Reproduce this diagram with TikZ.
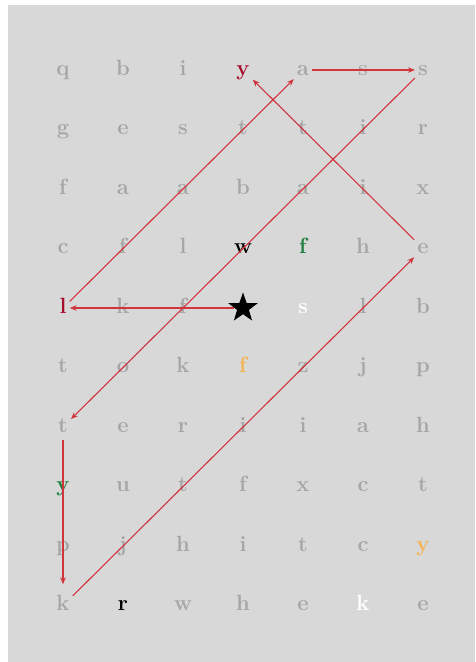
\documentclass[tikz,border=0pt]{standalone}
\usetikzlibrary{arrows.meta, shapes.geometric}
\definecolor{cBg}{RGB}{216,216,216}
\definecolor{cGy}{RGB}{166,166,166}
\definecolor{cRd}{RGB}{165, 12, 45}
\definecolor{cGn}{RGB}{ 28,125, 60}
\definecolor{cOg}{RGB}{245,178, 78}
\definecolor{cLn}{RGB}{208, 52, 60}
\tikzset{
  cell/.style={
    rectangle, inner sep=3pt,
    text height=15pt, text depth=5pt,
    font=\fontsize{22}{26}\selectfont\bfseries
  },
  gl/.style={cell, text=cGy},
  rd/.style={cell, text=cRd},
  gn/.style={cell, text=cGn},
  og/.style={cell, text=cOg},
  bk/.style={cell, text=black},
  wt/.style={cell, text=white},
  starcell/.style={
    star, star points=5, star point ratio=2.5,
    fill=black, draw=none, minimum size=31pt, inner sep=0pt
  },
  ra/.style={-{Stealth[length=7pt,width=5.5pt]}, line width=1.1pt, draw=cLn},
}

\begin{document}
\begin{tikzpicture}[x=1pt, y=-1pt]

%% ── Canvas ───────────────────────────────────────────────────────────────────
\useasboundingbox (0,0) rectangle (475,662);
\fill[white] (0,0) rectangle (475,662);
\fill[cBg] (8,5) rectangle (475,662);

%% ── Letter grid (10 rows x 7 columns) ───────────────────────────────────────
\foreach \row/\letters in {
  1/{q/gl,b/gl,i/gl,y/rd,a/gl,s/gl,s/gl},
  2/{g/gl,e/gl,s/gl,t/gl,t/gl,i/gl,r/gl},
  3/{f/gl,a/gl,a/gl,b/gl,a/gl,i/gl,x/gl},
  4/{c/gl,f/gl,l/gl,w/bk,f/gn,h/gl,e/gl},
  5/{l/rd,k/gl,f/gl,{}/starcell,s/wt,l/gl,b/gl},
  6/{t/gl,o/gl,k/gl,f/og,z/gl,j/gl,p/gl},
  7/{t/gl,e/gl,r/gl,i/gl,i/gl,a/gl,h/gl},
  8/{y/gn,u/gl,t/gl,f/gl,x/gl,c/gl,t/gl},
  9/{p/gl,j/gl,h/gl,i/gl,t/gl,c/gl,y/og},
  10/{k/gl,r/bk,w/gl,h/gl,e/gl,k/wt,e/gl}}
{
  \foreach \ch/\sty [count=\col] in \letters
    \node[\sty] (g\row-\col) at ({63+60*(\col-1)}, {70+59.5*(\row-1)}) {\ch};
}

%% ── Search path ──────────────────────────────────────────────────────────────
\draw[ra] (g5-4)  -- (g5-1);
\draw[ra] (g5-1)  -- (g1-5);
\draw[ra] (g1-5)  -- (g1-7);
\draw[ra] (g1-7)  -- (g7-1);
\draw[ra] (g7-1.south) -- ([yshift=8pt]g10-1.north);
\draw[ra] (g10-1) -- (g4-7);
\draw[ra] (g4-7)  -- (g1-4);

\end{tikzpicture}
\end{document}
